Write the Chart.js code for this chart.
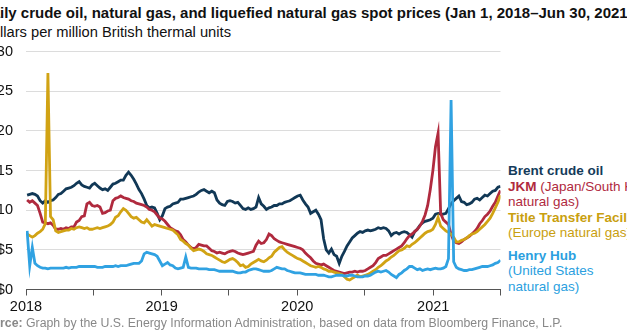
<!DOCTYPE html>
<html>
<head>
<meta charset="utf-8">
<script src="https://cdn.jsdelivr.net/npm/chart.js@4.4.1/dist/chart.umd.min.js"></script>
<style>
    html, body { margin: 0; padding: 0; background: #fff; }
    body { width: 627px; height: 330px; position: relative; overflow: hidden; font-family: "Liberation Sans", Arial, sans-serif; }
    .title { position: absolute; left: -19.2px; top: 3.8px; font-size: 15px; line-height: 18px; font-weight: bold; color: #111; white-space: nowrap; }
    .subtitle { position: absolute; left: -18.8px; top: 22.7px; font-size: 14.7px; line-height: 18px; color: #111; white-space: nowrap; }
    #chartBox { position: absolute; left: -20px; top: 30px; width: 525px; height: 290px; }
    .legend { position: absolute; left: 508px; top: 163px; font-size: 13.5px; line-height: 15.5px; white-space: nowrap; }
    .legend b { font-weight: bold; }
    .legend .hh { margin-top: 7px; }
    .source { position: absolute; left: -23.2px; top: 315.7px; font-size: 12.3px; line-height: 15px; color: #888; white-space: nowrap; }
</style>
</head>
<body>
<div class="title">Daily crude oil, natural gas, and liquefied natural gas spot prices (Jan 1, 2018–Jun 30, 2021)</div>
<div class="subtitle">Dollars per million British thermal units</div>
<div id="chartBox"><canvas id="priceChart"></canvas></div>
<div class="legend">
    <div style="color:#143b5a"><b>Brent crude oil</b></div>
    <div style="color:#b02a3e"><b>JKM</b> (Japan/South Korea</div>
    <div style="color:#b02a3e">natural gas)</div>
    <div style="color:#c9a00f"><b>Title Transfer Facility</b></div>
    <div style="color:#c9a00f">(Europe natural gas)</div>
    <div class="hh" style="color:#2b9fe0"><b>Henry Hub</b></div>
    <div style="color:#2b9fe0">(United States</div>
    <div style="color:#2b9fe0">natural gas)</div>
</div>
<div class="source"><b>Source:</b> Graph by the U.S. Energy Information Administration, based on data from Bloomberg Finance, L.P.</div>

<script>
// ==================== 数据：每周一个点（从2018-01-04起，每7天） ====================
const firstDay = 3;   // 距 2018-01-01 的天数
const stepDays = 7;

// 布伦特原油（美元/百万英热单位）
const brentValues = [
    11.9, 12.0, 12.1, 12.0, 11.8, 11.2, 10.9, 11.2, 11.0, 11.2, 11.3, 11.6, 12.0,
    12.1, 12.4, 12.7, 12.8, 12.9, 13.1, 13.4, 13.6, 13.2, 13.0, 12.9, 12.8, 13.2,
    13.4, 13.1, 12.8, 12.6, 12.7, 12.5, 12.9, 13.3, 13.4, 13.6, 13.8, 13.8, 14.4,
    14.8, 14.4, 13.9, 13.3, 12.6, 12.1, 11.4, 10.6, 10.3, 10.4, 10.3, 9.6, 8.8,
    9.3, 10.2, 10.4, 10.5, 10.8, 10.9, 11.0, 11.4, 11.4, 11.5, 11.6, 11.7, 11.8,
    12.0, 12.3, 12.5, 12.6, 12.4, 12.2, 12.4, 12.2, 11.3, 10.9, 10.7, 10.6, 11.1,
    11.2, 11.1, 10.9, 11.0, 10.6, 10.2, 10.1, 10.3, 10.1, 10.2, 10.4, 11.6, 10.8,
    10.5, 10.1, 10.3, 10.4, 10.6, 10.6, 10.8, 10.8, 11.0, 11.1, 11.2, 11.4, 11.6,
    11.8, 11.9, 11.3, 10.8, 10.4, 9.6, 9.8, 10.0, 9.5, 8.8, 6.4, 5.0, 4.6,
    5.1, 4.4, 4.2, 3.3, 4.2, 4.8, 5.5, 6.0, 6.5, 6.8, 7.1, 7.3, 7.2,
    7.4, 7.5, 7.4, 7.5, 7.6, 7.8, 7.7, 7.8, 7.7, 7.4, 6.8, 7.1, 7.2,
    7.0, 7.2, 7.3, 7.2, 6.9, 6.6, 7.3, 7.6, 8.1, 8.4, 8.6, 8.7, 8.8,
    9.0, 9.5, 9.6, 9.5, 9.5, 9.6, 10.2, 10.8, 11.2, 11.5, 11.8, 11.1, 11.0,
    10.7, 10.8, 11.0, 11.4, 11.5, 11.3, 11.6, 11.9, 11.8, 12.1, 12.4, 12.5, 12.9, 13.0
];

// JKM（日本/韩国液化天然气）
const jkmValues = [
    11.3, 11.0, 11.2, 10.9, 10.6, 9.6, 8.5, 8.4, 8.3, 8.4, 8.1, 7.6, 7.6,
    7.7, 7.6, 7.8, 7.7, 7.9, 7.9, 8.5, 8.7, 9.2, 9.3, 10.8, 11.0, 10.6,
    10.5, 10.6, 10.4, 9.6, 9.7, 9.9, 10.0, 11.2, 11.5, 11.6, 11.8, 11.6, 11.5,
    11.4, 11.2, 11.1, 10.9, 10.8, 10.7, 10.6, 10.4, 10.1, 10.0, 9.8, 9.4, 9.0,
    8.9, 8.6, 8.2, 7.8, 7.6, 7.4, 7.3, 6.9, 6.3, 6.0, 5.6, 5.3, 5.1,
    5.3, 5.7, 5.6, 5.5, 5.5, 5.2, 4.9, 4.8, 4.6, 4.7, 4.6, 4.5, 4.7,
    4.8, 4.9, 4.8, 4.6, 4.5, 4.4, 4.5, 4.6, 4.7, 4.8, 5.6, 6.1, 5.8,
    5.9, 6.3, 7.0, 6.8, 6.4, 6.2, 6.0, 5.9, 5.8, 5.7, 5.6, 5.5, 5.4,
    5.3, 5.2, 5.0, 4.6, 4.3, 4.0, 3.6, 3.3, 3.2, 3.1, 3.2, 3.0, 2.8,
    2.6, 2.4, 2.3, 2.2, 2.1, 2.0, 2.1, 2.2, 2.2, 2.3, 2.2, 2.3, 2.3,
    2.4, 2.6, 2.8, 3.0, 3.4, 3.9, 4.1, 4.3, 4.3, 4.5, 4.7, 4.9, 5.1,
    5.3, 5.5, 5.9, 6.4, 6.8, 7.0, 7.3, 7.6, 8.0, 8.6, 9.4, 10.6, 12.6,
    15.0, 18.0, 19.7, 9.6, 8.8, 8.5, 8.2, 7.0, 6.1, 5.9, 5.8, 6.0, 6.3,
    6.5, 6.7, 7.0, 7.3, 7.7, 8.3, 8.7, 9.2, 9.5, 9.9, 10.5, 11.0, 11.8, 12.5
];

// TTF（欧洲天然气）
const ttfValues = [
    7.0, 6.8, 6.6, 6.8, 7.1, 7.3, 7.6, 8.3, 27.3, 9.2, 8.8, 7.4, 7.2,
    7.3, 7.4, 7.5, 7.5, 7.7, 7.6, 7.8, 7.9, 7.8, 7.7, 7.8, 7.6, 7.6,
    7.7, 7.8, 7.7, 7.8, 7.9, 8.0, 8.2, 8.5, 9.1, 9.3, 9.8, 10.2, 10.0,
    9.6, 9.2, 9.0, 9.1, 8.8, 8.5, 8.4, 8.8, 8.4, 8.0, 8.2, 8.1, 8.0,
    7.9, 7.8, 7.7, 7.6, 7.5, 7.2, 6.9, 6.3, 6.1, 5.8, 5.6, 5.2, 4.9,
    5.0, 5.1, 5.0, 4.8, 4.5, 4.4, 4.3, 4.1, 3.9, 3.7, 3.5, 3.4, 3.6,
    3.8, 3.9, 3.7, 3.4, 3.0, 3.1, 2.8, 2.9, 3.2, 3.4, 3.6, 3.8, 3.6,
    3.5, 3.7, 4.0, 4.2, 4.7, 5.0, 5.3, 5.4, 5.0, 4.7, 4.5, 4.3, 4.1,
    3.9, 3.8, 3.6, 3.4, 3.2, 3.0, 2.9, 2.8, 2.9, 2.8, 2.6, 2.5, 2.3,
    2.3, 2.2, 2.1, 2.0, 1.9, 1.6, 1.3, 1.2, 1.4, 1.6, 1.8, 1.6, 1.7,
    1.8, 1.9, 2.1, 2.3, 2.5, 2.8, 3.0, 3.3, 3.6, 3.8, 4.1, 4.3, 4.6,
    4.9, 5.0, 5.2, 5.5, 5.4, 5.7, 5.9, 6.2, 6.5, 6.8, 7.1, 7.3, 7.4,
    7.6, 8.2, 9.1, 8.0, 7.7, 7.4, 7.2, 7.0, 6.6, 6.0, 6.0, 6.2, 6.3,
    6.5, 6.8, 7.0, 7.1, 7.3, 7.6, 7.9, 8.2, 8.6, 9.0, 9.6, 10.3, 11.0, 11.9
];

// Henry Hub（美国天然气）
const henryHubValues = [
    7.4, 3.0, 5.3, 3.3, 3.0, 2.8, 2.7, 2.7, 2.6, 2.7, 2.7, 2.7, 2.7,
    2.7, 2.7, 2.8, 2.7, 2.8, 2.8, 2.8, 2.9, 2.9, 2.9, 2.9, 2.9, 2.9,
    2.9, 2.8, 2.8, 2.8, 2.9, 2.9, 2.9, 2.9, 3.0, 2.9, 3.0, 3.0, 3.0,
    3.1, 3.2, 3.3, 3.3, 3.3, 3.6, 4.5, 4.7, 4.6, 4.5, 4.4, 4.2, 3.6,
    3.0, 3.2, 3.4, 3.1, 3.0, 2.7, 2.6, 2.7, 2.8, 4.1, 2.8, 2.7, 2.7,
    2.7, 2.6, 2.6, 2.6, 2.6, 2.5, 2.5, 2.5, 2.4, 2.3, 2.3, 2.3, 2.3,
    2.3, 2.3, 2.2, 2.1, 2.1, 2.2, 2.2, 2.4, 2.5, 2.6, 2.6, 2.5, 2.4,
    2.3, 2.3, 2.3, 2.4, 2.6, 2.8, 2.7, 2.6, 2.6, 2.4, 2.3, 2.2, 2.1,
    2.1, 2.1, 2.0, 1.9, 1.9, 1.9, 1.9, 1.9, 1.8, 1.8, 1.8, 1.7, 1.6,
    1.6, 1.7, 1.8, 1.8, 1.8, 1.7, 1.7, 1.8, 1.8, 1.7, 1.6, 1.6, 1.6,
    1.7, 1.7, 1.8, 2.0, 2.2, 2.3, 2.2, 2.3, 2.4, 2.2, 1.9, 1.7, 1.5,
    1.9, 2.1, 2.4, 2.6, 2.9, 2.9, 2.7, 2.5, 2.6, 2.4, 2.5, 2.6, 2.5,
    2.6, 2.7, 2.6, 2.6, 2.7, 2.9, 3.9, 23.9, 3.5, 2.8, 2.6, 2.5, 2.4,
    2.4, 2.5, 2.5, 2.6, 2.7, 2.8, 2.9, 2.9, 2.9, 3.0, 3.1, 3.3, 3.4, 3.7
];

// ==================== 坐标轴刻度 ====================
const xMaxDay = 1277;                                   // 2021-07-01
const xTickDays = [0, 181, 365, 546, 730, 912, 1096, 1277];
const xTickLabels = ['2018', '', '2019', '', '2020', '', '2021', ''];
const yTickValues = [0, 5, 10, 15, 20, 25, 30];
const yTickLabels = ['$0', '$5', '10', '15', '20', '25', '$30'];

// ==================== 工具函数 ====================
function toPoints(values) {
    return values.map((v, i) => ({ x: firstDay + i * stepDays, y: v }));
}

function makeDataset(label, values, color, order) {
    return {
        label: label,
        data: toPoints(values),
        borderColor: color,
        backgroundColor: color,
        borderWidth: 2.8,
        pointRadius: 0,
        tension: 0,
        fill: false,
        order: order
    };
}

// ==================== 绘制图表 ====================
const axisFont = { family: '"Liberation Sans", Arial, sans-serif', size: 14.5 };

const ctx = document.getElementById('priceChart').getContext('2d');
const chart = new Chart(ctx, {
    type: 'line',
    data: {
        datasets: [
            makeDataset('Brent crude oil', brentValues, '#113856', 3),
            makeDataset('JKM', jkmValues, '#b02a3e', 2),
            makeDataset('Title Transfer Facility', ttfValues, '#d1a314', 1),
            makeDataset('Henry Hub', henryHubValues, '#30a2e2', 0)
        ]
    },
    options: {
        responsive: true,
        maintainAspectRatio: false,
        animation: false,
        layout: { padding: { top: 17.5, right: 4.5, bottom: 4.5, left: 0 } },
        plugins: {
            legend: { display: false },
            tooltip: { enabled: false }
        },
        scales: {
            x: {
                type: 'linear',
                min: 0,
                max: xMaxDay,
                afterBuildTicks: scale => {
                    scale.ticks = xTickDays.map(v => ({ value: v }));
                },
                afterFit: scale => { scale.height = 26; },
                grid: { drawOnChartArea: false, drawTicks: true, tickLength: 6, color: '#555' },
                border: { display: true, color: '#555', width: 1 },
                ticks: {
                    autoSkip: false,
                    maxRotation: 0,
                    padding: 3,
                    color: '#111',
                    font: axisFont,
                    callback: value => {
                        const i = xTickDays.indexOf(value);
                        return i >= 0 ? xTickLabels[i] : '';
                    }
                }
            },
            y: {
                min: 0,
                max: 30,
                afterBuildTicks: scale => {
                    scale.ticks = yTickValues.map(v => ({ value: v }));
                },
                afterFit: scale => { scale.width = 46; },
                grid: { color: '#dcdcdc', drawTicks: false },
                border: { display: false },
                ticks: {
                    padding: 13,
                    color: '#111',
                    font: axisFont,
                    callback: value => {
                        const i = yTickValues.indexOf(value);
                        return i >= 0 ? yTickLabels[i] : '';
                    }
                }
            }
        }
    }
});
</script>
</body>
</html>
